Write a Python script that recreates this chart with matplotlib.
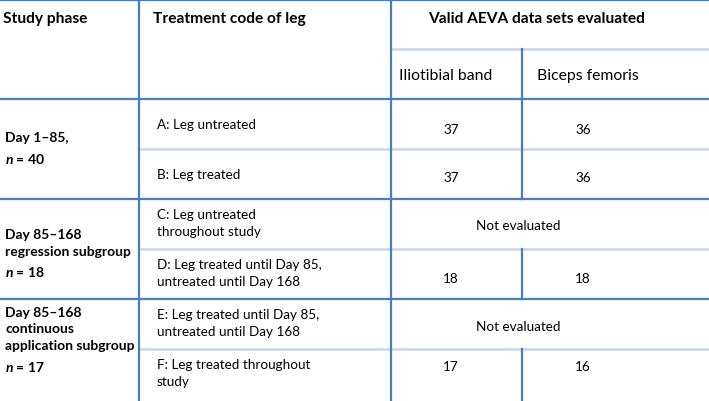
import matplotlib
matplotlib.use("Agg")
import matplotlib.pyplot as plt

# table contents
header_cols = ["Study phase", "Treatment code of leg", "Valid AEVA data sets evaluated"]
sub_headers = ["Iliotibial band", "Biceps femoris"]
phase_labels = ["Day 1\u201385,", "Day 85\u2013168\nregression subgroup",
                "Day 85\u2013168\ncontinuous\napplication subgroup"]
phase_n = [40, 18, 17]
treatment_codes = ["A: Leg untreated",
                   "B: Leg treated",
                   "C: Leg untreated\nthroughout study",
                   "D: Leg treated until Day 85,\nuntreated until Day 168",
                   "E: Leg treated until Day 85,\nuntreated until Day 168",
                   "F: Leg treated throughout\nstudy"]
iliotibial = [37, 37, None, 18, None, 17]
biceps = [36, 36, None, 18, None, 16]
not_eval = "Not evaluated"

plt.rcParams['font.family'] = ['Lato', 'DejaVu Sans']
plt.rcParams['mathtext.fontset'] = 'custom'
plt.rcParams['mathtext.it'] = 'Lato:italic:bold'
plt.rcParams['mathtext.rm'] = 'Lato:bold'

W, H = 709, 402
fig = plt.figure(figsize=(W / 100, H / 100), dpi=100)
ax = fig.add_axes([0, 0, 1, 1])
ax.set_xlim(0, W)
ax.set_ylim(H, 0)
ax.axis('off')

dark = '#4a7bc4'
light = '#c8d5ec'
fs_head = 11.2   # bold column headers
fs_sub = 11.3    # sub headers
fs_phase = 10.0  # bold phase labels
fs_body = 9.7    # treatment codes and values

# column edges / row layout (pixels)
x_c1, x_c2, x_c3 = 139, 391, 522
row_h = 50
body_top = 100

# grid lines
for y in [1, 100, 200, 300]:
    ax.plot([0, W], [y, y], color=dark, lw=1.6, solid_capstyle='butt')
ax.plot([x_c2 + 1, W], [50, 50], color=light, lw=1.8)
for y in [150, 250, 350]:
    ax.plot([x_c1 + 2, W], [y, y], color=light, lw=1.8)
ax.plot([x_c1, x_c1], [0, H], color=dark, lw=1.6)
ax.plot([x_c2, x_c2], [0, H], color=dark, lw=1.6)
for y0, y1 in [(50, 200), (250, 300), (350, H)]:
    ax.plot([x_c3, x_c3], [y0, y1], color=dark, lw=1.6)

# headers
ax.text(3, 19, header_cols[0], fontsize=fs_head, fontweight='bold', va='center')
ax.text(153, 19, header_cols[1], fontsize=fs_head, fontweight='bold', va='center')
ax.text(428, 19, header_cols[2], fontsize=fs_head, fontweight='bold', va='center')
ax.text(399, 76, sub_headers[0], fontsize=fs_sub, va='center')
ax.text(537, 76, sub_headers[1], fontsize=fs_sub, va='center')

# study phase column
phase_y = [138, 235, 313]
line_step = 16.5
for lab, n, y in zip(phase_labels, phase_n, phase_y):
    lines = lab.split("\n")
    for i, ln in enumerate(lines):
        ax.text(5, y + i * line_step, ln, fontsize=fs_phase, fontweight='bold', va='center')
    ax.text(5, y + (len(lines) - 1) * line_step + 21, f"$n$ = {n}",
            fontsize=fs_phase, fontweight='bold', va='center')

# treatment codes and values
value_y = [130, 178, 226, 279, 327, 367]
for i, code in enumerate(treatment_codes):
    top = body_top + i * row_h
    lines = code.split("\n")
    yc = top + 25 if len(lines) == 1 else top + 23.5
    start = yc - (len(lines) - 1) * line_step / 2
    for j, ln in enumerate(lines):
        ax.text(157, start + j * line_step, ln, fontsize=fs_body, va='center')
    if iliotibial[i] is None:
        ax.text(518, value_y[i], not_eval, fontsize=fs_body, va='center', ha='center')
    else:
        ax.text(451, value_y[i], str(iliotibial[i]), fontsize=fs_body, va='center', ha='center')
        ax.text(583, value_y[i], str(biceps[i]), fontsize=fs_body, va='center', ha='center')

fig.savefig("out.png", dpi=100)
